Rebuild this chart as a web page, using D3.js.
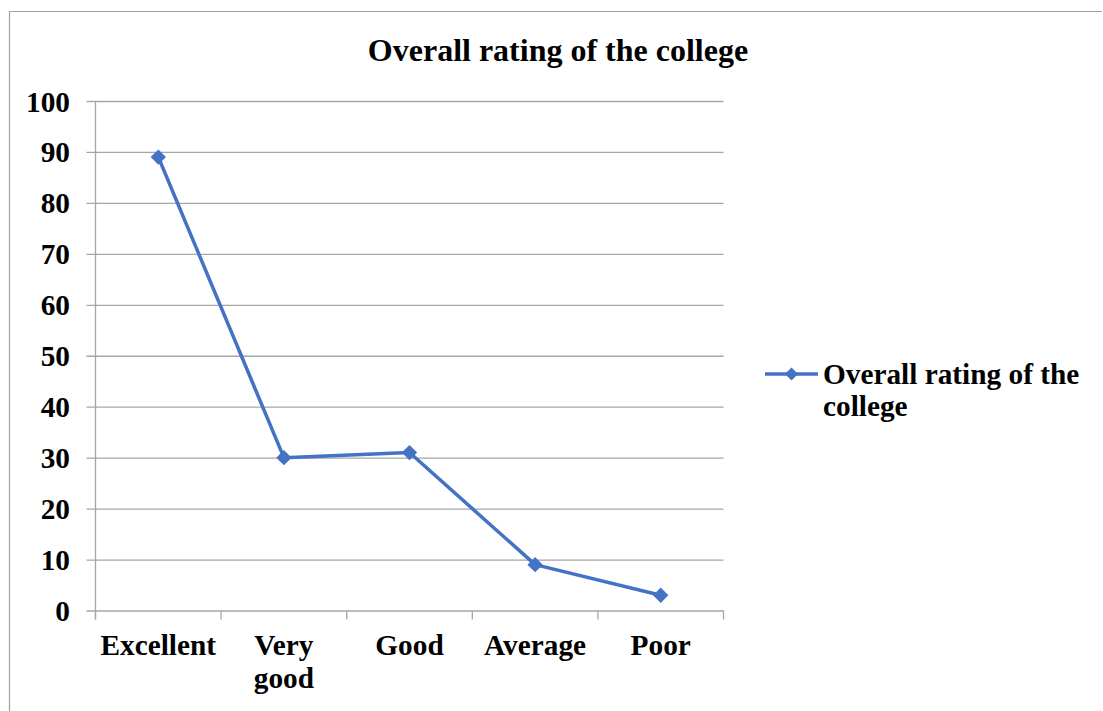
<!DOCTYPE html>
<html>
<head>
<meta charset="utf-8">
<script src="https://cdn.jsdelivr.net/npm/d3@7"></script>
<style>
  html, body { margin: 0; padding: 0; background: #fff; }
  svg { display: block; }
  text { font-family: "Liberation Serif", "Times New Roman", serif; font-weight: bold; fill: #000; }
</style>
</head>
<body>
<svg id="chart" width="1103" height="711"></svg>
<script>
const title = "Overall rating of the college";
const seriesName = "Overall rating of the college";
const categories = ["Excellent", "Very good", "Good", "Average", "Poor"];
const categoryLines = [["Excellent"], ["Very", "good"], ["Good"], ["Average"], ["Poor"]];
const values = [89, 30, 31, 9, 3];
const yTicks = [0, 10, 20, 30, 40, 50, 60, 70, 80, 90, 100];

const svg = d3.select("#chart");
const W = 1103, H = 711;
const margin = { left: 95.5, top: 101, right: 723.5, bottom: 610.5 };
const blue = "#4472C4";
const grid = "#a6a6a6";
const fs = 29.3;

// outer frame (top and left edges visible)
svg.append("path")
  .attr("d", `M9.5,${H} L9.5,11.5 L1102,11.5`)
  .attr("fill", "none").attr("stroke", "#a0a0a0").attr("stroke-width", 1.2);

const x = d3.scaleBand().domain(categories).range([margin.left, margin.right]).paddingInner(0).paddingOuter(0);
const y = d3.scaleLinear().domain([0, 100]).range([margin.bottom, margin.top]);

// gridlines + y axis
const yAxis = d3.axisLeft(y).tickValues(yTicks).tickSize(margin.right - margin.left + 9).tickFormat(d3.format("d")).tickPadding(0);
const gy = svg.append("g").attr("transform", `translate(${margin.right},0)`).call(yAxis);
gy.select(".domain").remove();
gy.selectAll(".tick line").attr("stroke", grid).attr("stroke-width", 1.3);
gy.selectAll(".tick text").remove();
svg.append("g").selectAll("text").data(yTicks).join("text")
  .attr("x", 70).attr("y", d => y(d) + 10.5)
  .attr("text-anchor", "end").attr("font-size", fs)
  .text(d => d);

// vertical axis line
svg.append("line").attr("x1", margin.left).attr("x2", margin.left)
  .attr("y1", margin.top).attr("y2", margin.bottom + 9)
  .attr("stroke", grid).attr("stroke-width", 1.3);

// x axis ticks
const xt = categories.map(c => x(c)).concat([margin.right]);
svg.append("g").selectAll("line").data(xt).join("line")
  .attr("x1", d => d).attr("x2", d => d)
  .attr("y1", margin.bottom).attr("y2", margin.bottom + 9)
  .attr("stroke", grid).attr("stroke-width", 1.3);

// x labels
const xl = svg.append("g");
categories.forEach((c, i) => {
  const t = xl.append("text").attr("text-anchor", "middle").attr("font-size", fs)
    .attr("x", x(c) + x.bandwidth() / 2).attr("y", 655);
  categoryLines[i].forEach((ln, j) => {
    t.append("tspan").attr("x", x(c) + x.bandwidth() / 2).attr("dy", j === 0 ? 0 : 33).text(ln);
  });
});

// line
const pts = categories.map((c, i) => [x(c) + x.bandwidth() / 2, y(values[i])]);
svg.append("path").datum(pts)
  .attr("d", d3.line())
  .attr("fill", "none").attr("stroke", blue).attr("stroke-width", 3.5).attr("stroke-linejoin", "round");

const diamond = d3.symbol().type(d3.symbolDiamond2).size(150);
svg.append("g").selectAll("path").data(pts).join("path")
  .attr("transform", d => `translate(${d[0]},${d[1]})`)
  .attr("d", diamond).attr("fill", blue);

// title
svg.append("text").attr("x", 558).attr("y", 61).attr("text-anchor", "middle")
  .attr("font-size", 32).text(title);

// legend
svg.append("line").attr("x1", 765).attr("x2", 818).attr("y1", 374).attr("y2", 374)
  .attr("stroke", blue).attr("stroke-width", 3.5);
svg.append("path").attr("transform", "translate(791.5,374)").attr("d", d3.symbol().type(d3.symbolDiamond2).size(110)).attr("fill", blue);
const lt = svg.append("text").attr("x", 823).attr("y", 384).attr("font-size", fs);
lt.append("tspan").attr("x", 823).attr("dy", 0).text("Overall rating of the");
lt.append("tspan").attr("x", 823).attr("dy", 32).text("college");
</script>
</body>
</html>
